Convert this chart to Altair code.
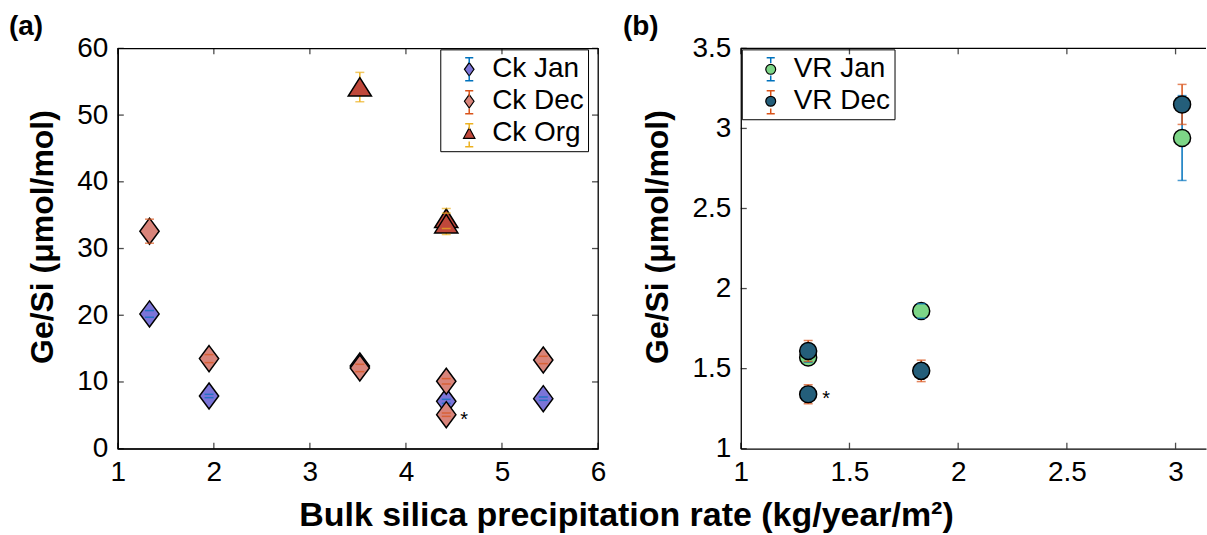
import altair as alt
import pandas as pd

# ---------------- data: panel (a) ----------------
ck_jan_x = [1.33, 1.95, 3.52, 4.42, 5.43]
ck_jan_y = [20.2, 7.9, 12.4, 7.1, 7.5]
ck_jan_err = [0.5, 0.25, 0.3, 0.3, 0.25]

ck_dec_x = [1.33, 1.95, 3.52, 4.42, 4.42, 5.43]
ck_dec_y = [32.6, 13.5, 12.1, 10.1, 5.1, 13.3]
ck_dec_err = [1.8, 0.6, 0.55, 0.4, 0.25, 0.55]
ck_dec_star = [False, False, False, False, True, False]

ck_org_x = [3.52, 4.42, 4.42]
ck_org_y = [54.2, 34.5, 33.7]
ck_org_err = [2.2, 1.5, 1.6]

# ---------------- data: panel (b) ----------------
vr_jan_x = [1.31, 1.83, 3.03]
vr_jan_y = [1.57, 1.86, 2.94]
vr_jan_err = [0.03, 0.045, 0.265]

vr_dec_x = [1.31, 1.31, 1.83, 3.03]
vr_dec_y = [1.61, 1.34, 1.486, 3.15]
vr_dec_err = [0.065, 0.06, 0.067, 0.125]
vr_dec_star = [False, True, False, False]

a_xticks = [1, 2, 3, 4, 5, 6]
a_yticks = [0, 10, 20, 30, 40, 50, 60]
b_xticks = [1, 1.5, 2, 2.5, 3]
b_yticks = [1, 1.5, 2, 2.5, 3, 3.5]

FONT = "Liberation Sans"
TITLE_Y = "Ge/Si (\u03bcmol/mol)"
TITLE_X = "Bulk silica precipitation rate (kg/year/m\u00b2)"

DIAMOND = "M0,-1L0.74,0L0,1L-0.74,0Z"
TRIANGLE = "M0,-0.82L1,0.78L-1,0.78Z"
# legend glyphs, drawn in a 30 px symbol box
LEG_DIAMOND = "M0,-0.45L0.32,0L0,0.45L-0.32,0Z"
LEG_TRIANGLE = "M0,-0.36L0.38,0.34L-0.38,0.34Z"
LEG_CIRCLE = "M0.33,0A0.33,0.33,0,1,1,-0.33,0A0.33,0.33,0,1,1,0.33,0Z"
LEG_IBEAM = "M-0.27,-0.77L0.27,-0.77M0,-0.77L0,-0.42M0,0.42L0,0.77M-0.27,0.77L0.27,0.77"
LEG_SIZE = 900


def frame(name, xs, ys, es, stars=None):
    return pd.DataFrame({
        "x": xs, "y": ys,
        "lo": [v - e for v, e in zip(ys, es)],
        "hi": [v + e for v, e in zip(ys, es)],
        "series": name,
        "star": stars if stars is not None else [False] * len(xs),
    })


def legend_params(lx, ly, boxed):
    d = dict(title=None, orient="none", legendX=lx, legendY=ly, padding=4,
             labelFont=FONT, labelFontSize=28, symbolSize=LEG_SIZE,
             rowPadding=2, labelOffset=7, symbolOffset=9)
    if boxed:
        d.update(strokeColor="black", labelColor="black", symbolStrokeWidth=1.2)
    else:
        d.update(labelExpr="''", symbolStrokeWidth=1.5, symbolType=LEG_IBEAM)
    return d


def make_panel(series_frames, err_colors, fills, shapes, leg_shapes, sizes, caps,
               xdom, ydom, xticks, yticks, width, height, lxy, label, ldx,
               box, yfmt):
    xs = alt.Scale(domain=xdom, nice=False, zero=False)
    ys = alt.Scale(domain=ydom, nice=False, zero=False)
    xax = alt.Axis(values=xticks, format="~g", title=None, grid=False, ticks=False,
                   labelFont=FONT, labelFontSize=28, labelColor="black", labelPadding=10,
                   domainColor="black", domainWidth=1.3, labelFlush=False)
    yax = alt.Axis(values=yticks, format=yfmt, title=TITLE_Y, grid=False, ticks=False,
                   labelFont=FONT, labelFontSize=28, labelColor="black", labelPadding=10,
                   domainColor="black", domainWidth=1.3, titleFont=FONT, titleFontSize=32,
                   titleFontWeight="bold", titleColor="black", titlePadding=17,
                   titleY=height / 2 - 12, labelFlush=False)
    names = list(series_frames)

    layers = []
    for n, df in series_frames.items():
        base = alt.Chart(df)
        X = alt.X("x:Q", scale=xs, axis=xax)
        rule = base.mark_rule(color=err_colors[n], strokeWidth=1.5).encode(
            x=X, y=alt.Y("lo:Q", scale=ys, axis=yax), y2="hi:Q")
        pts = base.mark_point(filled=True, fill=fills[n], stroke="black", strokeWidth=1.5,
                              opacity=1, fillOpacity=1, shape=shapes[n], size=sizes[n]).encode(
            x=X, y=alt.Y("y:Q", scale=ys, axis=yax))
        cap_hi = base.mark_tick(orient="horizontal", color=err_colors[n], size=caps,
                                thickness=1.5).encode(x=X, y=alt.Y("hi:Q", scale=ys, axis=yax))
        cap_lo = base.mark_tick(orient="horizontal", color=err_colors[n], size=caps,
                                thickness=1.5).encode(x=X, y=alt.Y("lo:Q", scale=ys, axis=yax))
        layers += [rule, pts, cap_hi, cap_lo]
        stars = df[df["star"]]
        if len(stars):
            layers.append(alt.Chart(stars).mark_text(text="*", dx=18, dy=5, fontSize=20,
                                                     font=FONT, color="black").encode(
                x=X, y=alt.Y("y:Q", scale=ys, axis=yax)))

    # legend: marker glyphs (boxed) + error-bar glyphs (no labels) at the same place
    alldf = pd.concat(list(series_frames.values()), ignore_index=True)
    leg_a = alt.Legend(**legend_params(lxy[0], lxy[1], True))
    leg_b = alt.Legend(**legend_params(lxy[0], lxy[1], False))
    layers.append(alt.Chart(alldf).transform_filter("false").mark_point(
        filled=True, opacity=1, strokeWidth=1.2).encode(
        fill=alt.Fill("series:N", scale=alt.Scale(domain=names, range=[fills[n] for n in names]), legend=leg_a),
        shape=alt.Shape("series:N", scale=alt.Scale(domain=names, range=[leg_shapes[n] for n in names]), legend=leg_a),
        stroke=alt.Stroke("series:N", scale=alt.Scale(domain=names, range=["black"] * len(names)), legend=leg_a)))
    layers.append(alt.Chart(alldf).transform_filter("false").mark_point(
        filled=False, opacity=1, strokeWidth=1.5, shape=LEG_IBEAM).encode(
        color=alt.Color("series:N", scale=alt.Scale(domain=[n + " " for n in names],
                                                     range=[err_colors[n] for n in names]),
                        legend=leg_b)))

    # inward ticks
    xt = pd.DataFrame({"t": xticks})
    yt = pd.DataFrame({"t": yticks})
    tk = dict(color="black", thickness=1.3, size=6)
    layers.append(alt.Chart(yt).mark_tick(orient="horizontal", xOffset=3, **tk).encode(
        x=alt.datum(xdom[0], scale=xs), y=alt.Y("t:Q", scale=ys, axis=yax)))
    layers.append(alt.Chart(xt).mark_tick(orient="vertical", yOffset=-3, **tk).encode(
        x=alt.X("t:Q", scale=xs, axis=xax), y=alt.datum(ydom[0], scale=ys)))
    layers.append(alt.Chart(xt).mark_tick(orient="vertical", yOffset=3, **tk).encode(
        x=alt.X("t:Q", scale=xs, axis=xax), y=alt.datum(ydom[1], scale=ys)))
    if box:
        layers.append(alt.Chart(yt).mark_tick(orient="horizontal", xOffset=-3, **tk).encode(
            x=alt.datum(xdom[1], scale=xs), y=alt.Y("t:Q", scale=ys, axis=yax)))
    else:
        layers.append(alt.Chart(yt.head(1)).mark_rule(color="black", strokeWidth=1.3).encode(
            y=alt.datum(ydom[1], scale=ys)))

    view = alt.ViewBackground(stroke="black", strokeWidth=1.3) if box else alt.ViewBackground(stroke=None)
    return alt.layer(*layers).properties(
        width=width, height=height, view=view,
        title=alt.TitleParams(label, anchor="start", frame="group", fontSize=28,
                              fontWeight="bold", font=FONT, color="black", dx=ldx, offset=-7))


panel_a = make_panel(
    {"Ck Jan": frame("Ck Jan", ck_jan_x, ck_jan_y, ck_jan_err),
     "Ck Dec": frame("Ck Dec", ck_dec_x, ck_dec_y, ck_dec_err, ck_dec_star),
     "Ck Org": frame("Ck Org", ck_org_x, ck_org_y, ck_org_err)},
    err_colors={"Ck Jan": "#0072BD", "Ck Dec": "#D95319", "Ck Org": "#EDB120"},
    fills={"Ck Jan": "#7b74d8", "Ck Dec": "#d8847a", "Ck Org": "#c0483b"},
    shapes={"Ck Jan": DIAMOND, "Ck Dec": DIAMOND, "Ck Org": TRIANGLE},
    leg_shapes={"Ck Jan": LEG_DIAMOND, "Ck Dec": LEG_DIAMOND, "Ck Org": LEG_TRIANGLE},
    sizes={"Ck Jan": 680, "Ck Dec": 680, "Ck Org": 540},
    caps=9, xdom=[1, 6], ydom=[0, 60], xticks=a_xticks, yticks=a_yticks,
    width=481, height=401, lxy=(323, 1), label="(a)", ldx=-109,
    box=True, yfmt="d")

panel_b = make_panel(
    {"VR Jan": frame("VR Jan", vr_jan_x, vr_jan_y, vr_jan_err),
     "VR Dec": frame("VR Dec", vr_dec_x, vr_dec_y, vr_dec_err, vr_dec_star)},
    err_colors={"VR Jan": "#0072BD", "VR Dec": "#D95319"},
    fills={"VR Jan": "#7dd687", "VR Dec": "#245e7a"},
    shapes={"VR Jan": "circle", "VR Dec": "circle"},
    leg_shapes={"VR Jan": LEG_CIRCLE, "VR Dec": LEG_CIRCLE},
    sizes={"VR Jan": 290, "VR Dec": 290},
    caps=9, xdom=[1, 3.14], ydom=[1, 3.5], xticks=b_xticks, yticks=b_yticks,
    width=466, height=401, lxy=(1, 1), label="(b)", ldx=-118,
    box=False, yfmt="~g")

chart = alt.hconcat(panel_a, panel_b, spacing=16).resolve_scale(
    fill="independent", shape="independent", stroke="independent", color="independent"
).properties(
    title=alt.TitleParams(TITLE_X, orient="bottom", anchor="middle", fontSize=34,
                          fontWeight="bold", font=FONT, color="black", dx=19, offset=12),
    padding={"left": 8, "top": 12, "right": 0, "bottom": 0},
).configure_view(stroke=None)

chart.save("out.html", embed_options={"renderer": "svg", "actions": False})
